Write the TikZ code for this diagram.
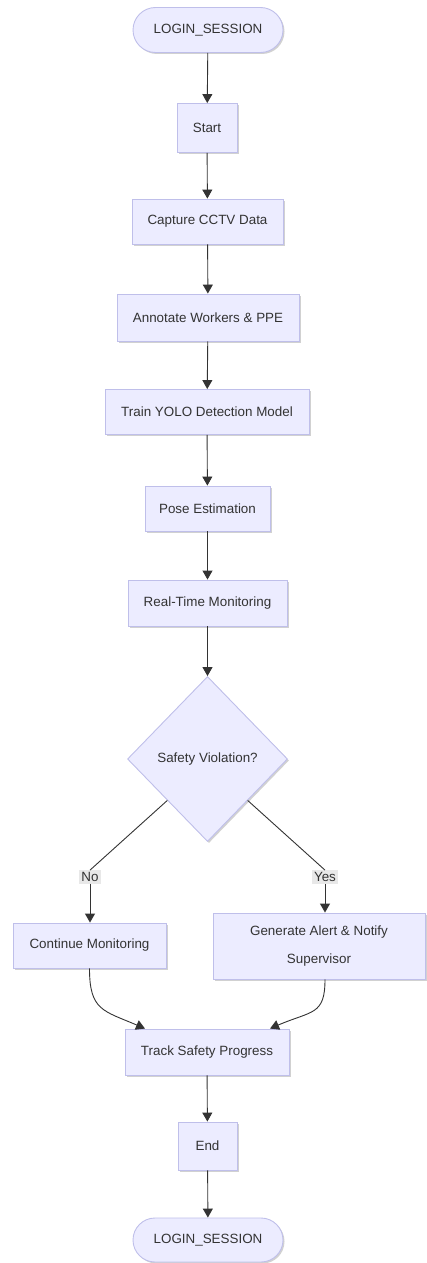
\documentclass[tikz,border=0pt]{standalone}
\usepackage{fontspec}
\setmainfont{Liberation Sans}
\usetikzlibrary{shapes.geometric,shapes.misc,arrows.meta,shadows,calc}

\definecolor{boxfill}{HTML}{ECECFF}
\definecolor{boxline}{HTML}{BFBFEA}
\definecolor{ink}{HTML}{333333}
\definecolor{lblfill}{HTML}{E8E8E8}

\tikzset{
  stepbox/.style={draw=boxline,fill=boxfill,line width=0.9pt,text=ink,
    drop shadow={shadow xshift=1.5pt,shadow yshift=-1.5pt,opacity=0.18,fill=black},
    inner sep=0pt,align=center},
  termbox/.style={stepbox,rounded rectangle},
  decbox/.style={stepbox,diamond,aspect=1},
  edgelbl/.style={fill=lblfill,text=ink,inner sep=2pt},
  arr/.style={draw=ink,line width=0.9pt,-{Triangle[width=10pt,length=9pt]}},
  ln/.style={draw=ink,line width=0.9pt}
}

\begin{document}
\begin{tikzpicture}[x=1pt,y=1pt,font=\fontsize{13.4}{24}\selectfont]
        \useasboundingbox (0,0) rectangle (427,-1263);

        % main column
        \node[termbox,minimum width=150,minimum height=45] (login1) at (208,-30) {LOGIN\_SESSION};
        \node[stepbox,minimum width=60,minimum height=49] (start) at (207,-128) {Start};
        \node[stepbox,minimum width=151,minimum height=45] (capture) at (207.5,-221.5) {Capture CCTV Data};
        \node[stepbox,minimum width=182,minimum height=47] (annotate) at (208,-317.5) {Annotate Workers \& PPE};
        \node[stepbox,minimum width=204,minimum height=45] (train) at (207,-412) {Train YOLO Detection Model};
        \node[stepbox,minimum width=125,minimum height=45] (pose) at (207.5,-508.5) {Pose Estimation};
        \node[stepbox,minimum width=159,minimum height=46] (monitor) at (207.5,-603) {Real-Time Monitoring};
        \node[decbox,minimum width=160,minimum height=165] (violation) at (207.5,-759) {Safety Violation?};

        % branches
        \node[edgelbl] (no) at (90,-877) {No};
        \node[edgelbl] (yes) at (325,-877) {Yes};
        \node[stepbox,minimum width=153,minimum height=45] (continue) at (89.5,-945.5) {Continue Monitoring};
        \node[stepbox,minimum width=212,minimum height=66] (alert) at (319,-946) {Generate Alert \& Notify\\[4pt]Supervisor};

        % tail
        \node[stepbox,minimum width=164,minimum height=46] (track) at (207,-1052) {Track Safety Progress};
        \node[stepbox,minimum width=59,minimum height=48] (finish) at (207.5,-1146) {End};
        \node[termbox,minimum width=150,minimum height=44] (login2) at (208,-1240) {LOGIN\_SESSION};

        \draw[arr] (login1) -- (start);
        \draw[arr] (start) -- (capture);
        \draw[arr] (capture) -- (annotate);
        \draw[arr] (annotate) -- (train);
        \draw[arr] (train) -- (pose);
        \draw[arr] (pose) -- (monitor);
        \draw[arr] (monitor) -- (violation);

        \draw[ln] (violation.south west) -- (no.north);
        \draw[arr] (no.south) -- (continue.north -| no.south);
        \draw[ln] (violation.south east) -- (yes.north);
        \draw[arr] (yes.south) -- (alert.north -| yes.south);

        \coordinate (trkl) at ($(track.north)+(-62,0)$);
        \coordinate (trkr) at ($(track.north)+(63,0)$);
        \draw[arr] (continue.south) .. controls +(0,-42) and +(-42,18) .. (trkl);
        \draw[arr] (alert.south -| yes) .. controls +(0,-36) and +(42,18) .. (trkr);

        \draw[arr] (track) -- (finish);
        \draw[arr] (finish) -- (login2);
    \end{tikzpicture}
\end{document}
